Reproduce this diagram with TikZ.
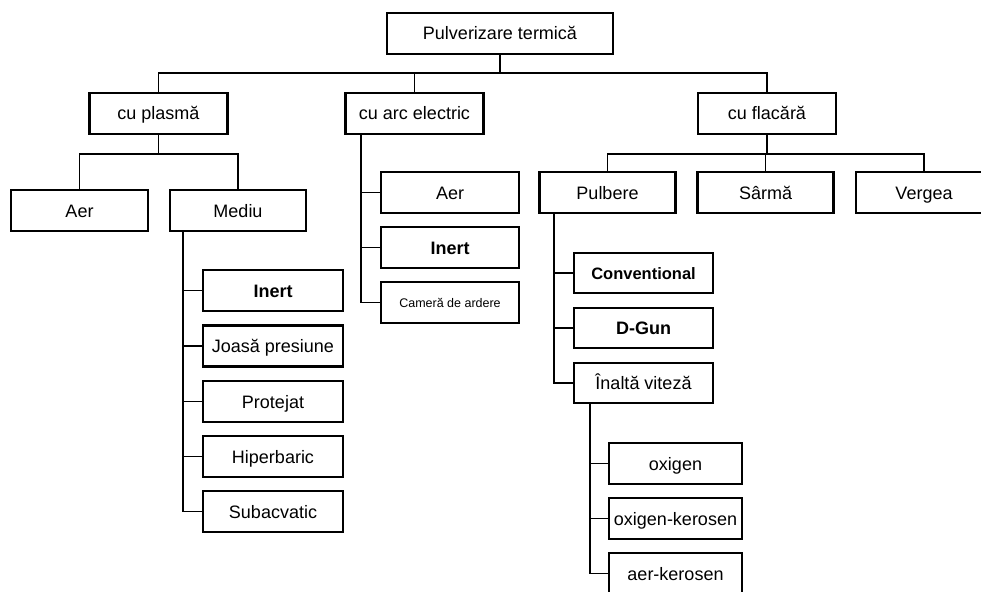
\documentclass[tikz,border=0pt]{standalone}
\usepackage{fontspec}
\setmainfont{Liberation Sans}
\usepackage{tikz}

\begin{document}
\begin{tikzpicture}[x=1pt,y=-1pt,
			box/.style={draw,line width=2.8pt,minimum width=138pt,minimum height=41pt,inner sep=0pt,text height=13pt,text depth=0pt,font=\fontsize{18}{20}\selectfont},
			link/.style={line width=1.9pt}]
			\clip (0,0) rectangle (981,591);
			
			\node[box,minimum width=226pt] (top) at (500,33.5) {Pulverizare termică};
			\foreach \x/\n/\t in {
				158.5/plasma/cu plasmă,
				414.5/arc/cu arc electric,
				767/flacara/cu flacără
			}{
				\node[box] (\n) at (\x,113.5) {\t};
			}
			
			\node[box,minimum width=137pt] (aerP) at (79.5,210.5) {Aer};
			\node[box,minimum width=136pt] (mediu) at (238,210.5) {Mediu};
			\foreach \x/\n/\t in {
				607.5/pulbere/Pulbere,
				765.5/sarma/Sârmă,
				924/vergea/Vergea
			}{
				\node[box,minimum width=136pt] (\n) at (\x,192.5) {\t};
			}
			
			\foreach \y/\n/\t in {
				192.5/aerA/Aer,
				247.5/inertA/\textbf{Inert}
			}{
				\node[box] (\n) at (450,\y) {\t};
			}
			\node[box,text height=9pt,font=\fontsize{12.5}{14}\selectfont] (camera) at (450,302.5) {Cameră de ardere};
			
			\foreach \y/\n/\t in {
				290.5/inertM/\textbf{Inert},
				346/joasa/Joasă presiune,
				401.5/protejat/Protejat,
				456.5/hiper/Hiperbaric,
				511.5/subac/Subacvatic
			}{
				\node[box,minimum width=140pt] (\n) at (273,\y) {\t};
			}
			
			\node[box,minimum width=139pt,minimum height=40pt,text height=12pt,font=\fontsize{16.5}{18}\selectfont\bfseries] (conv) at (643.5,273) {Conventional};
			\node[box,minimum width=139pt,minimum height=40pt] (dgun) at (643.5,328) {\textbf{D-Gun}};
			\node[box,minimum width=139pt,minimum height=40pt] (inalta) at (643.5,383) {Înaltă viteză};
			
			\foreach \y/\n/\t in {
				463.5/oxigen/oxigen,
				518.5/oxker/oxigen-kerosen,
				573.5/aerker/aer-kerosen
			}{
				\node[box,minimum width=133pt] (\n) at (675.5,\y) {\t};
			}
			
			\draw[link] (top.south) -- ++(0,18) coordinate (b0);
			\draw[link] (plasma.north) |- (b0) -| (flacara.north);
			\draw[link] (arc.north) -- (arc.north |- b0);
			
			\draw[link] (plasma.south) -- ++(0,19) coordinate (b1);
			\draw[link] (aerP.north) |- (b1) -| (mediu.north);
			
			\draw[link] (flacara.south) -- ++(0,19) coordinate (b2);
			\draw[link] (pulbere.north) |- (b2) -| (vergea.north);
			\draw[link] (sarma.north) -- (sarma.north |- b2);
			
			\coordinate (c1) at ([xshift=14pt]mediu.south west);
			\draw[link] (c1) |- (subac.west);
			\foreach \n in {inertM,joasa,protejat,hiper}
				\draw[link] (c1 |- \n.west) -- (\n.west);
			
			\coordinate (c2) at ([xshift=17pt]arc.south west);
			\draw[link] (c2) |- (camera.west);
			\foreach \n in {aerA,inertA}
				\draw[link] (c2 |- \n.west) -- (\n.west);
			
			\coordinate (c3) at ([xshift=16pt]pulbere.south west);
			\draw[link] (c3) |- (inalta.west);
			\foreach \n in {conv,dgun}
				\draw[link] (c3 |- \n.west) -- (\n.west);
			
			\coordinate (c4) at ([xshift=17pt]inalta.south west);
			\draw[link] (c4) |- (aerker.west);
			\foreach \n in {oxigen,oxker}
				\draw[link] (c4 |- \n.west) -- (\n.west);
		\end{tikzpicture}
\end{document}
